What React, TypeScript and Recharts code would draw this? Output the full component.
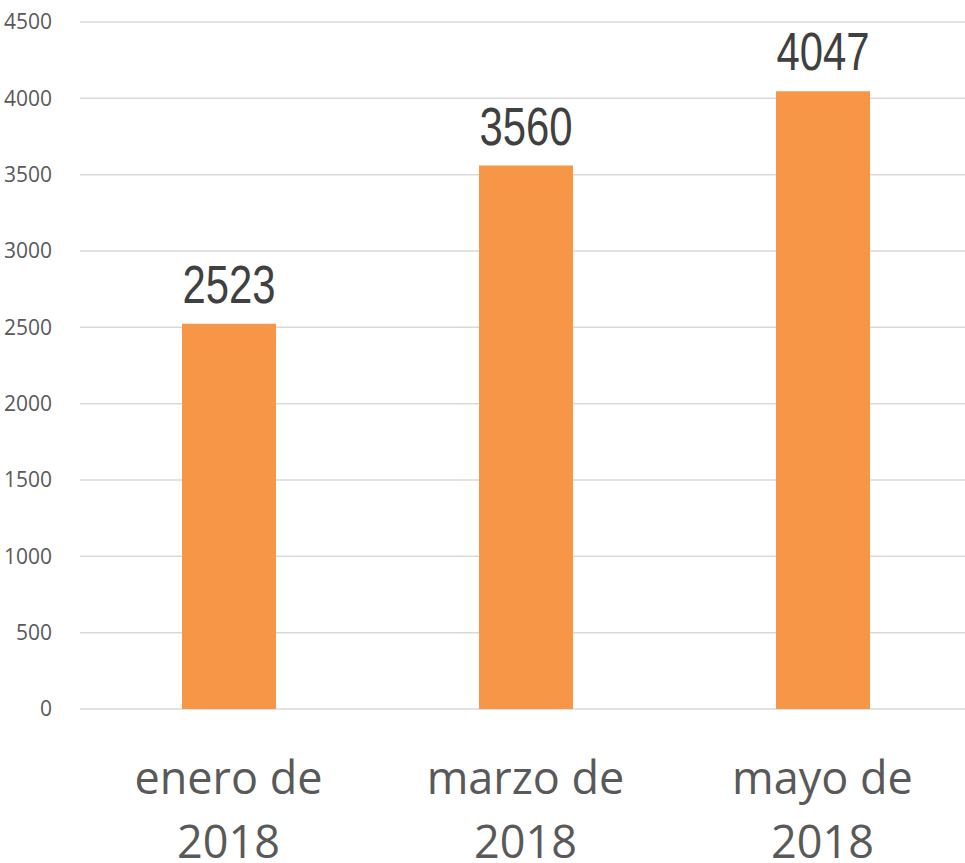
import { BarChart, Bar, XAxis, YAxis, CartesianGrid, LabelList } from "recharts";

const months = ["enero de", "marzo de", "mayo de"];
const years = ["2018", "2018", "2018"];
const counts = [2523, 3560, 4047];
const yTicks = [0, 500, 1000, 1500, 2000, 2500, 3000, 3500, 4000, 4500];

const data = months.map((m, i) => ({ name: m, year: years[i], value: counts[i] }));

function CategoryTick(props: any) {
  const { x, y, payload, index } = props;
  return (
    <text
      x={x}
      y={y}
      textAnchor="middle"
      fill="#595959"
      fontFamily="'Open Sans', sans-serif"
      fontSize={45}
    >
      <tspan x={x} y={y + 79}>{payload.value}</tspan>
      <tspan x={x} y={y + 143}>{years[index]}</tspan>
    </text>
  );
}

// narrow value label above each bar
function ValueLabel(props: any) {
  const { x, y, width, value } = props;
  const text = String(value);
  return (
    <text
      x={x + width / 2}
      y={y - 21}
      textAnchor="middle"
      fill="#404040"
      fontFamily="'Liberation Sans', Arial, sans-serif"
      fontSize={53}
      textLength={text.length * 23.3}
      lengthAdjust="spacingAndGlyphs"
    >
      {text}
    </text>
  );
}

export default function App() {
  return (
    <div style={{ position: "absolute", left: 0, top: 0, background: "#fff" }}>
      <BarChart
        width={965}
        height={863}
        data={data}
        margin={{ top: 22, right: -6, bottom: 0, left: 0 }}
      >
        <CartesianGrid vertical={false} stroke="#D9D9D9" strokeWidth={1.5} />
        <XAxis
          dataKey="name"
          height={154}
          axisLine={false}
          tickLine={false}
          tickMargin={0}
          interval={0}
          tick={<CategoryTick />}
        />
        <YAxis
          width={80}
          domain={[0, 4500]}
          ticks={yTicks}
          axisLine={false}
          tickLine={false}
          tickMargin={22}
          tick={{
            fill: "#595959",
            fontSize: 21,
            fontFamily: "'Open Sans', sans-serif",
          }}
        />
        <Bar dataKey="value" fill="#F79646" barSize={94} isAnimationActive={false}>
          <LabelList dataKey="value" position="top" content={<ValueLabel />} />
        </Bar>
      </BarChart>
    </div>
  );
}
